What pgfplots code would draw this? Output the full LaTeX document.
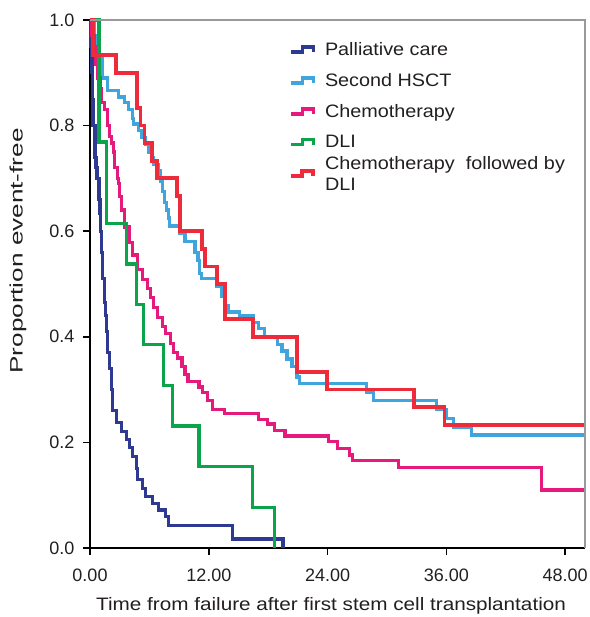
\documentclass[border=0pt]{standalone}
\usepackage{fontspec}
\setmainfont{Liberation Sans}[FakeStretch=1.1]
\newfontfamily\tickfont{Liberation Sans}
\newfontfamily\xlabfont{Liberation Sans}[FakeStretch=1.15]
\newfontfamily\ylabfont{Liberation Sans}[FakeStretch=1.45]
\usepackage{pgfplots}
\pgfplotsset{compat=1.18}
\definecolor{cPal}{HTML}{2E3A91}
\definecolor{cHsct}{HTML}{41A5DD}
\definecolor{cChemo}{HTML}{E6197D}
\definecolor{cDli}{HTML}{0BA44B}
\definecolor{cRed}{HTML}{EE2B3B}
\definecolor{txt}{HTML}{231F20}
\begin{document}
\begin{tikzpicture}
\begin{axis}[
  scale only axis, width=495pt, height=528pt,
  xmin=0, xmax=50, ymin=0, ymax=1,
  axis lines=left,
  axis line style={-, black, line width=1.8pt},
  clip=false,
  xtick={0,12,24,36,48}, ytick={0,0.2,0.4,0.6,0.8,1},
  tick align=outside, major tick length=7pt,
  tick style={black, line width=1.6pt},
  /pgf/number format/assume math mode=true,
  xticklabel style={/pgf/number format/fixed, /pgf/number format/fixed zerofill, /pgf/number format/precision=2, yshift=-10pt},
  yticklabel style={/pgf/number format/fixed, /pgf/number format/fixed zerofill, /pgf/number format/precision=1, xshift=-5pt},
  tick label style={font=\tickfont\fontsize{18}{20}\selectfont, text=txt},
  xlabel={Time from failure after first stem cell transplantation},
  ylabel={Proportion event-free},
  xlabel style={font=\xlabfont\fontsize{18}{20}\selectfont, text=txt, at={(axis description cs:0.487,0)}, anchor=center, yshift=-58pt},
  ylabel style={font=\ylabfont\fontsize{18}{20}\selectfont, text=txt, at={(axis description cs:-0.1455,0.5625)}, anchor=center},
  legend image code/.code={\draw[#1] (0pt,-2.5pt) -- (11pt,-2.5pt) -- (11pt,2.5pt) -- (22pt,2.5pt) -- (22pt,-2.5pt);},
  legend cell align=left,
  legend style={draw=none, fill=none, at={(axis description cs:0.396,0.966)}, anchor=north west,
    font=\fontsize{18}{21}\selectfont, text=txt, row sep=12.5pt, column sep=8pt,
    nodes={align=left}},
]
% Palliative care
\addplot[const plot, color=cPal, line width=3.2pt] coordinates {
(0,1) (0.1,0.95) (0.2,0.9) (0.25,0.85) (0.3,0.80) (0.5,0.74) (0.6,0.72) (0.7,0.70) (0.9,0.66) (1.0,0.634) (1.1,0.60) (1.2,0.56) (1.3,0.51) (1.5,0.465) (1.6,0.44) (1.7,0.41) (1.8,0.37) (2.0,0.34) (2.2,0.30) (2.3,0.26) (2.7,0.237) (3.2,0.22) (3.7,0.205) (4.0,0.19) (4.3,0.174) (4.7,0.15) (4.8,0.13) (5.3,0.112) (5.6,0.097) (6.3,0.085) (6.9,0.072) (7.6,0.06) (7.9,0.043) (14.4,0.017) (19.5,0)
};
\addlegendentry{Palliative care}
% Second HSCT
\addplot[const plot, color=cHsct, line width=3.2pt] coordinates {
(0,1) (0.4,0.97) (0.6,0.93) (1.3,0.89) (1.8,0.867) (2.9,0.854) (3.5,0.843) (3.9,0.83) (4.3,0.814) (4.4,0.803) (4.9,0.79) (5.2,0.777) (5.6,0.765) (5.9,0.75) (6.3,0.739) (6.4,0.727) (6.9,0.714) (7.1,0.695) (7.3,0.675) (7.5,0.655) (7.7,0.64) (7.9,0.625) (8.0,0.61) (9.1,0.595) (9.6,0.58) (10.6,0.56) (10.9,0.545) (11.1,0.52) (11.3,0.51) (12.8,0.496) (13.3,0.477) (13.6,0.46) (14.0,0.447) (15.1,0.44) (16.5,0.427) (17.0,0.415) (17.6,0.40) (18.9,0.386) (19.4,0.373) (19.9,0.358) (20.4,0.343) (20.9,0.324) (21.2,0.311) (27.9,0.295) (28.6,0.28) (35.0,0.263) (36.0,0.246) (36.7,0.229) (38.5,0.214) (50,0.214)
};
\addlegendentry{Second HSCT}
% Chemotherapy
\addplot[const plot, color=cChemo, line width=3.2pt] coordinates {
(0,1) (0.2,0.97) (0.4,0.95) (0.6,0.915) (0.8,0.89) (1.0,0.87) (1.2,0.843) (1.5,0.83) (1.8,0.80) (2.0,0.78) (2.2,0.767) (2.4,0.75) (2.5,0.72) (2.8,0.70) (2.9,0.69) (3.0,0.665) (3.2,0.64) (3.5,0.608) (4.0,0.578) (4.3,0.555) (4.8,0.527) (5.3,0.508) (5.8,0.492) (6.1,0.475) (6.4,0.456) (6.8,0.437) (7.3,0.419) (7.6,0.407) (8.1,0.388) (8.4,0.371) (8.8,0.36) (9.3,0.343) (9.6,0.328) (9.9,0.316) (11.0,0.305) (11.4,0.295) (11.9,0.28) (12.4,0.263) (13.6,0.254) (17.0,0.244) (17.9,0.235) (18.6,0.223) (19.7,0.212) (24.1,0.201) (25.0,0.189) (26.2,0.176) (26.5,0.165) (31.2,0.153) (45.6,0.11) (50,0.11)
};
\addlegendentry{Chemotherapy}
% DLI
\addplot[const plot, color=cDli, line width=3.2pt] coordinates {
(0,1) (0.9,0.769) (1.7,0.615) (3.7,0.538) (4.7,0.4615) (5.4,0.385) (7.4,0.308) (8.3,0.231) (11.0,0.154) (16.4,0.077) (18.6,0)
};
\addlegendentry{DLI}
% Chemotherapy followed by DLI
\addplot[const plot, color=cRed, line width=3.8pt] coordinates {
(0,1) (0.3,0.933) (2.6,0.90) (4.75,0.833) (5.1,0.80) (5.5,0.767) (6.3,0.733) (6.8,0.70) (8.8,0.667) (9.1,0.60) (11.3,0.567) (11.6,0.533) (12.8,0.50) (13.6,0.433) (16.5,0.40) (20.9,0.333) (23.9,0.30) (32.7,0.267) (35.8,0.233) (50,0.233)
};
\addlegendentry{\raisebox{0pt}[14.5pt][5.5pt]{\begin{tabular}[c]{@{}l@{}}Chemotherapy\ \ followed by\\DLI\end{tabular}}}
\coordinate (O) at (rel axis cs:0,0);
\draw[gray!80, line width=1.2pt] (rel axis cs:0,1) -- (rel axis cs:1,1) -- (rel axis cs:1,0);
\end{axis}
\pgfresetboundingbox
\path ([shift={(-90pt,-69pt)}]O) rectangle ([shift={(499pt,548pt)}]O);
\end{tikzpicture}
\end{document}
